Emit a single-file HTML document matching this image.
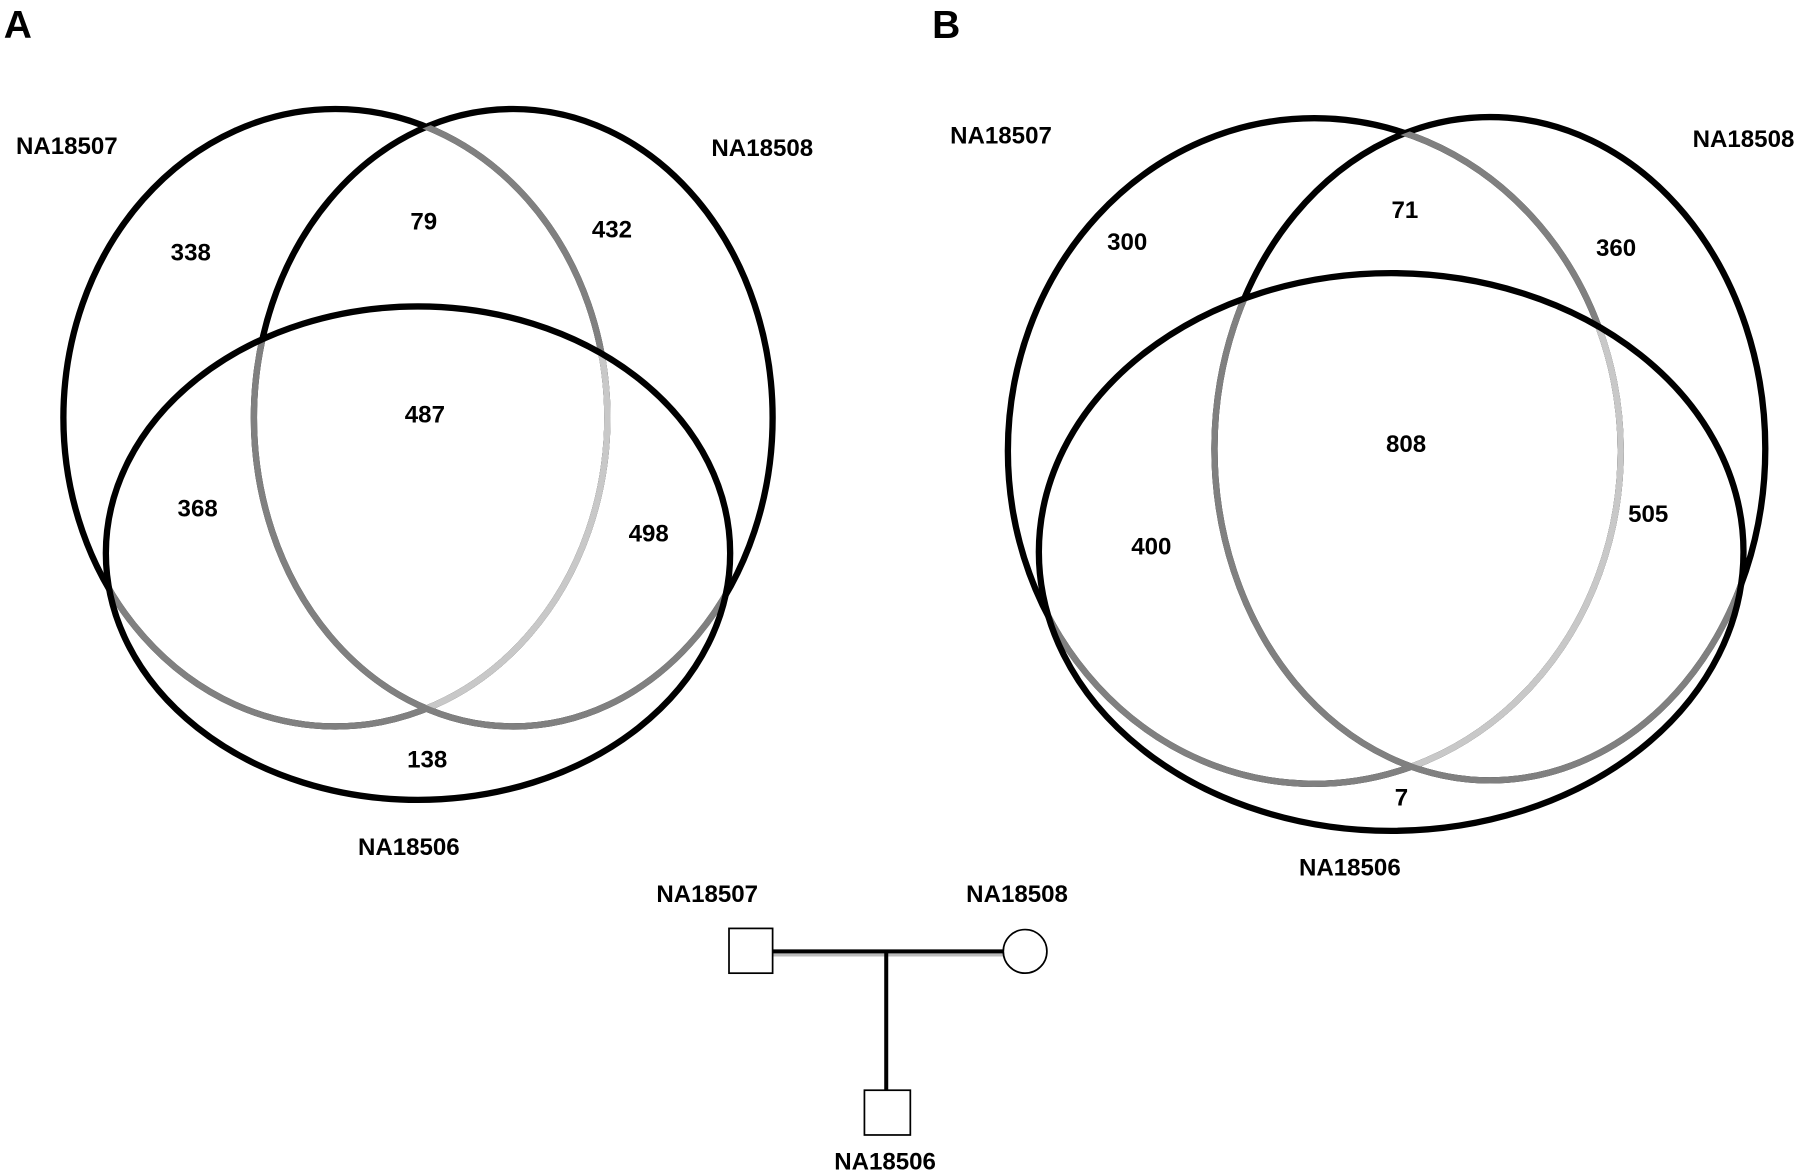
<!DOCTYPE html>
<html><head><style>html,body{margin:0;padding:0;background:#fff}svg{display:block}text{font-family:"Liberation Sans",sans-serif;font-weight:bold;font-size:21px}</style></head><body>
<svg width="1800" height="1174" viewBox="0 0 1568 1023" xmlns="http://www.w3.org/2000/svg">
<defs>
<clipPath id="aR"><ellipse cx="447" cy="364" rx="226" ry="269"/></clipPath>
<clipPath id="aB"><ellipse cx="364" cy="482" rx="272" ry="215"/></clipPath>
<clipPath id="bR"><ellipse cx="1298" cy="391" rx="240" ry="289"/></clipPath>
<clipPath id="bB"><ellipse cx="1212" cy="481" rx="307" ry="243"/></clipPath>
</defs>
<g fill="none" stroke-width="5.5">
<!-- A -->
<ellipse cx="292" cy="364" rx="237" ry="269" stroke="#000"/>
<ellipse cx="447" cy="364" rx="226" ry="269" stroke="#000"/>
<ellipse cx="292" cy="364" rx="237" ry="269" stroke="#808080" clip-path="url(#aR)"/>
<ellipse cx="292" cy="364" rx="237" ry="269" stroke="#808080" clip-path="url(#aB)"/>
<g clip-path="url(#aR)"><ellipse cx="292" cy="364" rx="237" ry="269" stroke="#c8c8c8" clip-path="url(#aB)"/></g>
<ellipse cx="447" cy="364" rx="226" ry="269" stroke="#808080" clip-path="url(#aB)"/>
<ellipse cx="364" cy="482" rx="272" ry="215" stroke="#000"/>
<!-- B -->
<ellipse cx="1145" cy="393" rx="267" ry="290" stroke="#000"/>
<ellipse cx="1298" cy="391" rx="240" ry="289" stroke="#000"/>
<ellipse cx="1145" cy="393" rx="267" ry="290" stroke="#808080" clip-path="url(#bR)"/>
<ellipse cx="1145" cy="393" rx="267" ry="290" stroke="#808080" clip-path="url(#bB)"/>
<g clip-path="url(#bR)"><ellipse cx="1145" cy="393" rx="267" ry="290" stroke="#c8c8c8" clip-path="url(#bB)"/></g>
<ellipse cx="1298" cy="391" rx="240" ry="289" stroke="#808080" clip-path="url(#bB)"/>
<ellipse cx="1212" cy="481" rx="307" ry="243" stroke="#000"/>
</g>
<text x="3" y="33" style="font-size:34px">A</text>
<text x="812" y="33" style="font-size:34px">B</text>
<g text-anchor="middle">
<text x="58" y="134">NA18507</text><text x="664" y="136">NA18508</text><text x="356" y="745">NA18506</text>
<text x="166" y="227">338</text><text x="369" y="200">79</text><text x="533" y="207">432</text>
<text x="370" y="368">487</text><text x="172" y="450">368</text><text x="565" y="472">498</text><text x="372" y="669">138</text>
<text x="872" y="125">NA18507</text><text x="1519" y="128">NA18508</text><text x="1176" y="763">NA18506</text>
<text x="982" y="218">300</text><text x="1224" y="190">71</text><text x="1408" y="223">360</text>
<text x="1225" y="394">808</text><text x="1003" y="483">400</text><text x="1436" y="455">505</text><text x="1221" y="702">7</text>
<text x="616" y="786">NA18507</text><text x="886" y="786">NA18508</text><text x="771" y="1019">NA18506</text>
</g>
<line x1="673" y1="832" x2="874" y2="832" stroke="#bbb" stroke-width="3"/>
<line x1="673" y1="829" x2="874" y2="829" stroke="#000" stroke-width="3.5"/>
<line x1="772" y1="829" x2="772" y2="950" stroke="#000" stroke-width="3.5"/>
<rect x="635" y="809" width="38" height="39" fill="#fff" stroke="#000" stroke-width="1.5"/>
<circle cx="893" cy="829" r="19" fill="#fff" stroke="#000" stroke-width="1.5"/>
<rect x="753" y="950" width="40" height="39" fill="#fff" stroke="#000" stroke-width="1.5"/>
</svg>
</body></html>
